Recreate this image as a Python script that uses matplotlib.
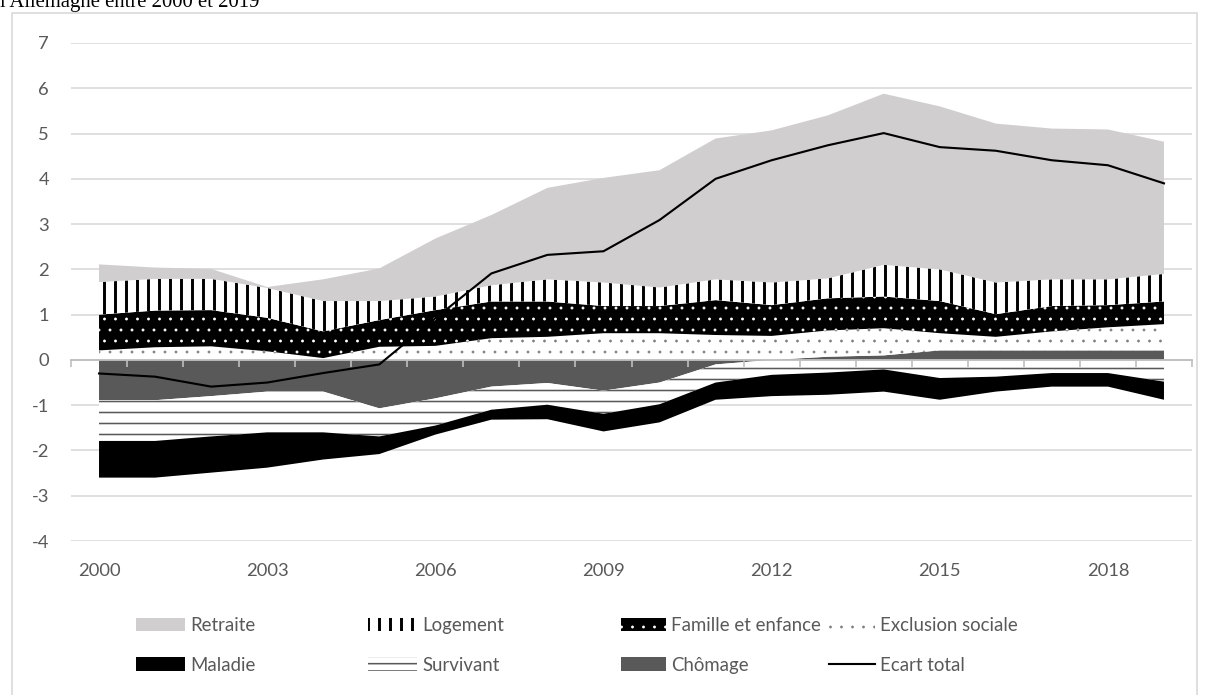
import numpy as np
import matplotlib
matplotlib.use("Agg")
import matplotlib.pyplot as plt
from matplotlib.patches import Patch, Rectangle
from matplotlib.lines import Line2D

years = list(range(2000, 2020))

retraite = [0.39, 0.25, 0.22, 0.02, 0.48, 0.72, 1.28, 1.55, 2.02, 2.31,
            2.59, 3.11, 3.36, 3.60, 3.78, 3.60, 3.51, 3.33, 3.31, 2.92]
logement = [0.72, 0.70, 0.69, 0.66, 0.67, 0.42, 0.30, 0.36, 0.49, 0.52,
            0.41, 0.46, 0.50, 0.44, 0.70, 0.70, 0.70, 0.59, 0.57, 0.61]
famille = [0.79, 0.81, 0.80, 0.74, 0.59, 0.59, 0.79, 0.81, 0.78, 0.60,
           0.60, 0.77, 0.68, 0.71, 0.70, 0.71, 0.50, 0.56, 0.49, 0.50]
exclusion = [0.21, 0.28, 0.30, 0.19, 0.04, 0.29, 0.31, 0.48, 0.51, 0.59,
             0.59, 0.55, 0.53, 0.58, 0.60, 0.38, 0.30, 0.42, 0.51, 0.58]
maladie = [-0.81, -0.81, -0.80, -0.78, -0.60, -0.39, -0.20, -0.22, -0.32, -0.39,
           -0.40, -0.38, -0.47, -0.49, -0.49, -0.48, -0.33, -0.30, -0.30, -0.40]
survivant = [-0.90, -0.90, -0.89, -0.90, -0.90, -0.62, -0.60, -0.51, -0.48, -0.51,
             -0.48, -0.40, -0.33, -0.28, -0.21, -0.40, -0.37, -0.29, -0.29, -0.48]
chomage = [-0.89, -0.89, -0.80, -0.70, -0.70, -1.07, -0.85, -0.59, -0.51, -0.68,
           -0.50, -0.10, 0.00, 0.07, 0.10, 0.21, 0.21, 0.21, 0.21, 0.21]
ecart_total = [-0.30, -0.37, -0.59, -0.50, -0.29, -0.10, 0.92, 1.91, 2.32, 2.40,
               3.09, 4.00, 4.41, 4.74, 5.01, 4.70, 4.62, 4.41, 4.30, 3.90]

year_labels = ["2000", "2003", "2006", "2009", "2012", "2015", "2018"]

DPI = 132
W, H = 1208, 695
plt.rcParams["font.family"] = ["Lato", "DejaVu Sans"]
plt.rcParams["axes.unicode_minus"] = False
txt_color = "#595959"

# (name, values, face, hatch, hatch colour, hatch width, legend hatch) - stacking order
series = [
    ("Chômage", chomage, "#595959", None, None, 0, None),
    ("Survivant", survivant, "white", "--", "#595959", 0.85, "---"),
    ("Maladie", maladie, "black", None, None, 0, None),
    ("Exclusion sociale", exclusion, "white", "..", "#7f7f7f", 0.3, ".."),
    ("Famille et enfance", famille, "black", "..", "white", 0.35, ".."),
    ("Logement", logement, "white", "||", "black", 1.6, "||"),
    ("Retraite", retraite, "#D0CECE", None, None, 0, None),
]


def hatch_width(artist, lw):
    # hatch line width per artist, whatever the matplotlib version reads
    if hasattr(artist, "set_hatch_linewidth"):
        artist.set_hatch_linewidth(lw)
    orig = artist.draw

    def draw(renderer, *args, **kwargs):
        with plt.rc_context({"hatch.linewidth": lw}):
            return orig(renderer, *args, **kwargs)
    artist.draw = draw


def styled(coll, face, hatch, hcol, hlw):
    coll.set_facecolor(face)
    coll.set_linewidth(0)
    if hatch:
        coll.set_edgecolor(hcol)
        coll.set_hatch(hatch)
        hatch_width(coll, hlw)
    return coll


fig = plt.figure(figsize=(W / DPI, H / DPI), dpi=DPI)
ax = fig.add_axes([71 / W, 1 - 541 / H, (1192 - 71) / W, (541 - 43) / H])

x = np.arange(len(years))
base_pos = np.zeros(len(years))
base_neg = np.zeros(len(years))
for name, vals, face, hatch, hcol, hlw, lh in series:
    v = np.array(vals)
    pos = np.clip(v, 0, None)
    neg = np.clip(v, None, 0)
    c1 = ax.fill_between(x, base_pos, base_pos + pos, zorder=2)
    c2 = ax.fill_between(x, base_neg + neg, base_neg, zorder=2)
    styled(c1, face, hatch, hcol, hlw)
    styled(c2, face, hatch, hcol, hlw)
    base_pos = base_pos + pos
    base_neg = base_neg + neg

ax.plot(x, ecart_total, color="black", lw=1.15, zorder=4)

ax.set_xlim(-0.5, len(years) - 0.5)
ax.set_ylim(-4, 7)
ax.set_yticks(range(-4, 8))
ax.yaxis.grid(True, color="#D9D9D9", lw=0.9)
ax.set_axisbelow(True)
for s in ax.spines.values():
    s.set_visible(False)
ax.tick_params(axis="y", length=0, pad=12, labelsize=10, labelcolor=txt_color)
ax.set_xticks([years.index(int(y)) for y in year_labels])
ax.set_xticklabels(year_labels)
ax.tick_params(axis="x", length=0, pad=12, labelsize=10, labelcolor=txt_color)

# zero axis with ticks between categories
sec = ax.secondary_xaxis(4 / 11)
sec.set_xticks(np.arange(-0.5, len(years), 1.0))
sec.tick_params(axis="x", length=4, width=0.9, color="#BFBFBF",
                direction="out", labelbottom=False)
sec.spines["bottom"].set_color("#BFBFBF")
sec.spines["bottom"].set_linewidth(1.0)
sec.set_zorder(3)

# legend, four columns
handles = {}
legend_hatch = {}
for name, vals, face, hatch, hcol, hlw, lh in series:
    handles[name] = Patch(facecolor=face, edgecolor=hcol if lh else "none",
                          hatch=lh, linewidth=0)
    legend_hatch[name] = hlw if lh else None
handles["Ecart total"] = Line2D([], [], color="black", lw=1.15)
legend_hatch["Ecart total"] = None

# (left edge px, handle length px, entries)
columns = [(136, 49, ["Retraite", "Maladie"]),
           (368, 49, ["Logement", "Survivant"]),
           (621, 45, ["Famille et enfance", "Chômage"]),
           (829, 46, ["Exclusion sociale", "Ecart total"])]
fs = 10.2
fs_px = fs * DPI / 72
for xl, hl, names in columns:
    leg = fig.legend([handles[n] for n in names], names,
                     loc="upper left", bbox_to_anchor=(xl / W, 1 - 617 / H),
                     frameon=False, borderpad=0, borderaxespad=0,
                     handlelength=hl / fs_px, handleheight=0.75,
                     handletextpad=5 / fs_px, labelspacing=1.22,
                     fontsize=fs, labelcolor=txt_color)
    for n, h in zip(names, leg.legend_handles):
        if legend_hatch[n]:
            hatch_width(h, legend_hatch[n])

# chart border and clipped title line above it
fig.add_artist(Rectangle((12 / W, -0.01), (1197 - 12) / W, 1 - 13 / H + 0.01,
                         transform=fig.transFigure, fill=False,
                         edgecolor="#D9D9D9", lw=0.9))
fig.text(0, 1 - 7 / H, "l'Allemagne entre 2000 et 2019", family="Liberation Serif",
         fontsize=11.3, va="baseline", ha="left", color="black")

fig.savefig("out.png", dpi=DPI)
